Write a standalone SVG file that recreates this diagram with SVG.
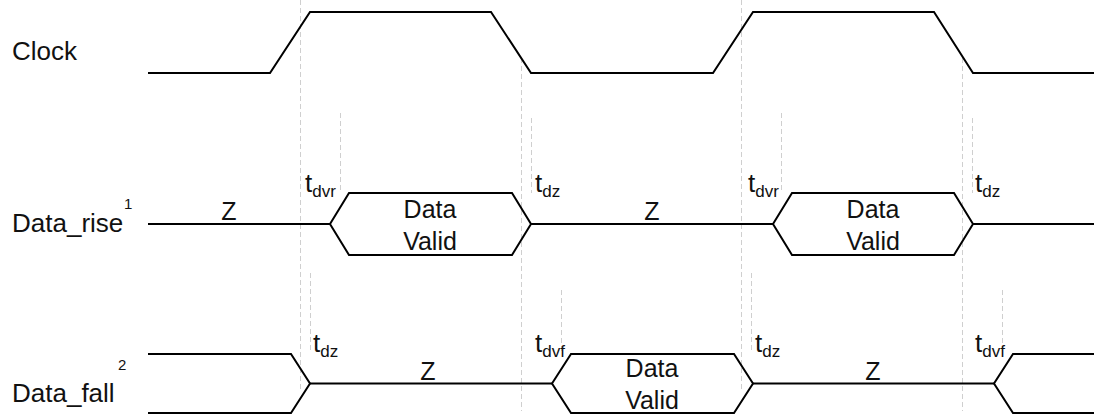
<svg xmlns="http://www.w3.org/2000/svg" width="1094" height="417" viewBox="0 0 1094 417">
<style>
.sig{fill:none;stroke:#000;stroke-width:2;stroke-linejoin:miter}
.guide{stroke:#cfcfcf;stroke-width:1;stroke-dasharray:5 3;fill:none}
text{font-family:"Liberation Sans",Arial,sans-serif;fill:#111}
.lbl{font-size:26px}
.txt{font-size:25px;text-anchor:middle}
.t{font-size:26px}
.sub{font-size:17px}
.sup{font-size:15px}
</style>
<rect width="1094" height="417" fill="#fff"/>
<g id="guides">
<line class="guide" x1="300.5" y1="0" x2="300.5" y2="392"/>
<line class="guide" x1="741.5" y1="0" x2="741.5" y2="392"/>
<line class="guide" x1="521.5" y1="58" x2="521.5" y2="411"/>
<line class="guide" x1="962.5" y1="58" x2="962.5" y2="411"/>
<line class="guide" x1="340.5" y1="113" x2="340.5" y2="193"/>
<line class="guide" x1="531.5" y1="118" x2="531.5" y2="193"/>
<line class="guide" x1="781.5" y1="113" x2="781.5" y2="193"/>
<line class="guide" x1="972.5" y1="118" x2="972.5" y2="193"/>
<line class="guide" x1="310.5" y1="273" x2="310.5" y2="352"/>
<line class="guide" x1="561.5" y1="290" x2="561.5" y2="352"/>
<line class="guide" x1="751.5" y1="273" x2="751.5" y2="352"/>
<line class="guide" x1="1002.5" y1="290" x2="1002.5" y2="352"/>
</g>
<g id="clock">
<text class="lbl" x="12" y="60">Clock</text>
<polyline class="sig" points="148,73 270,73 310,12 491,12 531,73 713,73 753,12 934,12 973,73 1094,73"/>
</g>
<g id="data-rise">
<text class="lbl" x="12" y="232">Data_rise</text>
<text class="sup" x="124" y="209">1</text>
<line class="sig" x1="148" y1="224" x2="330" y2="224"/>
<text class="txt" x="229" y="220">Z</text>
<polygon class="sig" points="330,224 349,193 512,193 531,224 512,255 349,255"/>
<text class="txt" x="430" y="218">Data</text>
<text class="txt" x="430" y="250">Valid</text>
<line class="sig" x1="531" y1="224" x2="773" y2="224"/>
<text class="txt" x="652" y="220">Z</text>
<polygon class="sig" points="773,224 792,193 954,193 973,224 954,255 792,255"/>
<text class="txt" x="873" y="218">Data</text>
<text class="txt" x="873" y="250">Valid</text>
<line class="sig" x1="973" y1="224" x2="1094" y2="224"/>
<text class="t" x="305" y="192">t<tspan class="sub" dy="5">dvr</tspan></text>
<text class="t" x="535" y="192">t<tspan class="sub" dy="5">dz</tspan></text>
<text class="t" x="748" y="192">t<tspan class="sub" dy="5">dvr</tspan></text>
<text class="t" x="975" y="192">t<tspan class="sub" dy="5">dz</tspan></text>
</g>
<g id="data-fall">
<text class="lbl" x="12" y="402">Data_fall</text>
<text class="sup" x="118" y="370">2</text>
<polyline class="sig" points="148,354 291,354 310,383.5 291,413 148,413"/>
<line class="sig" x1="310" y1="383.5" x2="552" y2="383.5"/>
<text class="txt" x="428" y="380">Z</text>
<polygon class="sig" points="552,383.5 571,354 734,354 753,383.5 734,413 571,413"/>
<text class="txt" x="652" y="377">Data</text>
<text class="txt" x="652" y="409">Valid</text>
<line class="sig" x1="753" y1="383.5" x2="994" y2="383.5"/>
<text class="txt" x="873" y="380">Z</text>
<polyline class="sig" points="1094,354 1013,354 994,383.5 1013,413 1094,413"/>
<text class="t" x="313" y="352">t<tspan class="sub" dy="5">dz</tspan></text>
<text class="t" x="535" y="352">t<tspan class="sub" dy="5">dvf</tspan></text>
<text class="t" x="755" y="352">t<tspan class="sub" dy="5">dz</tspan></text>
<text class="t" x="975" y="352">t<tspan class="sub" dy="5">dvf</tspan></text>
</g>
</svg>
